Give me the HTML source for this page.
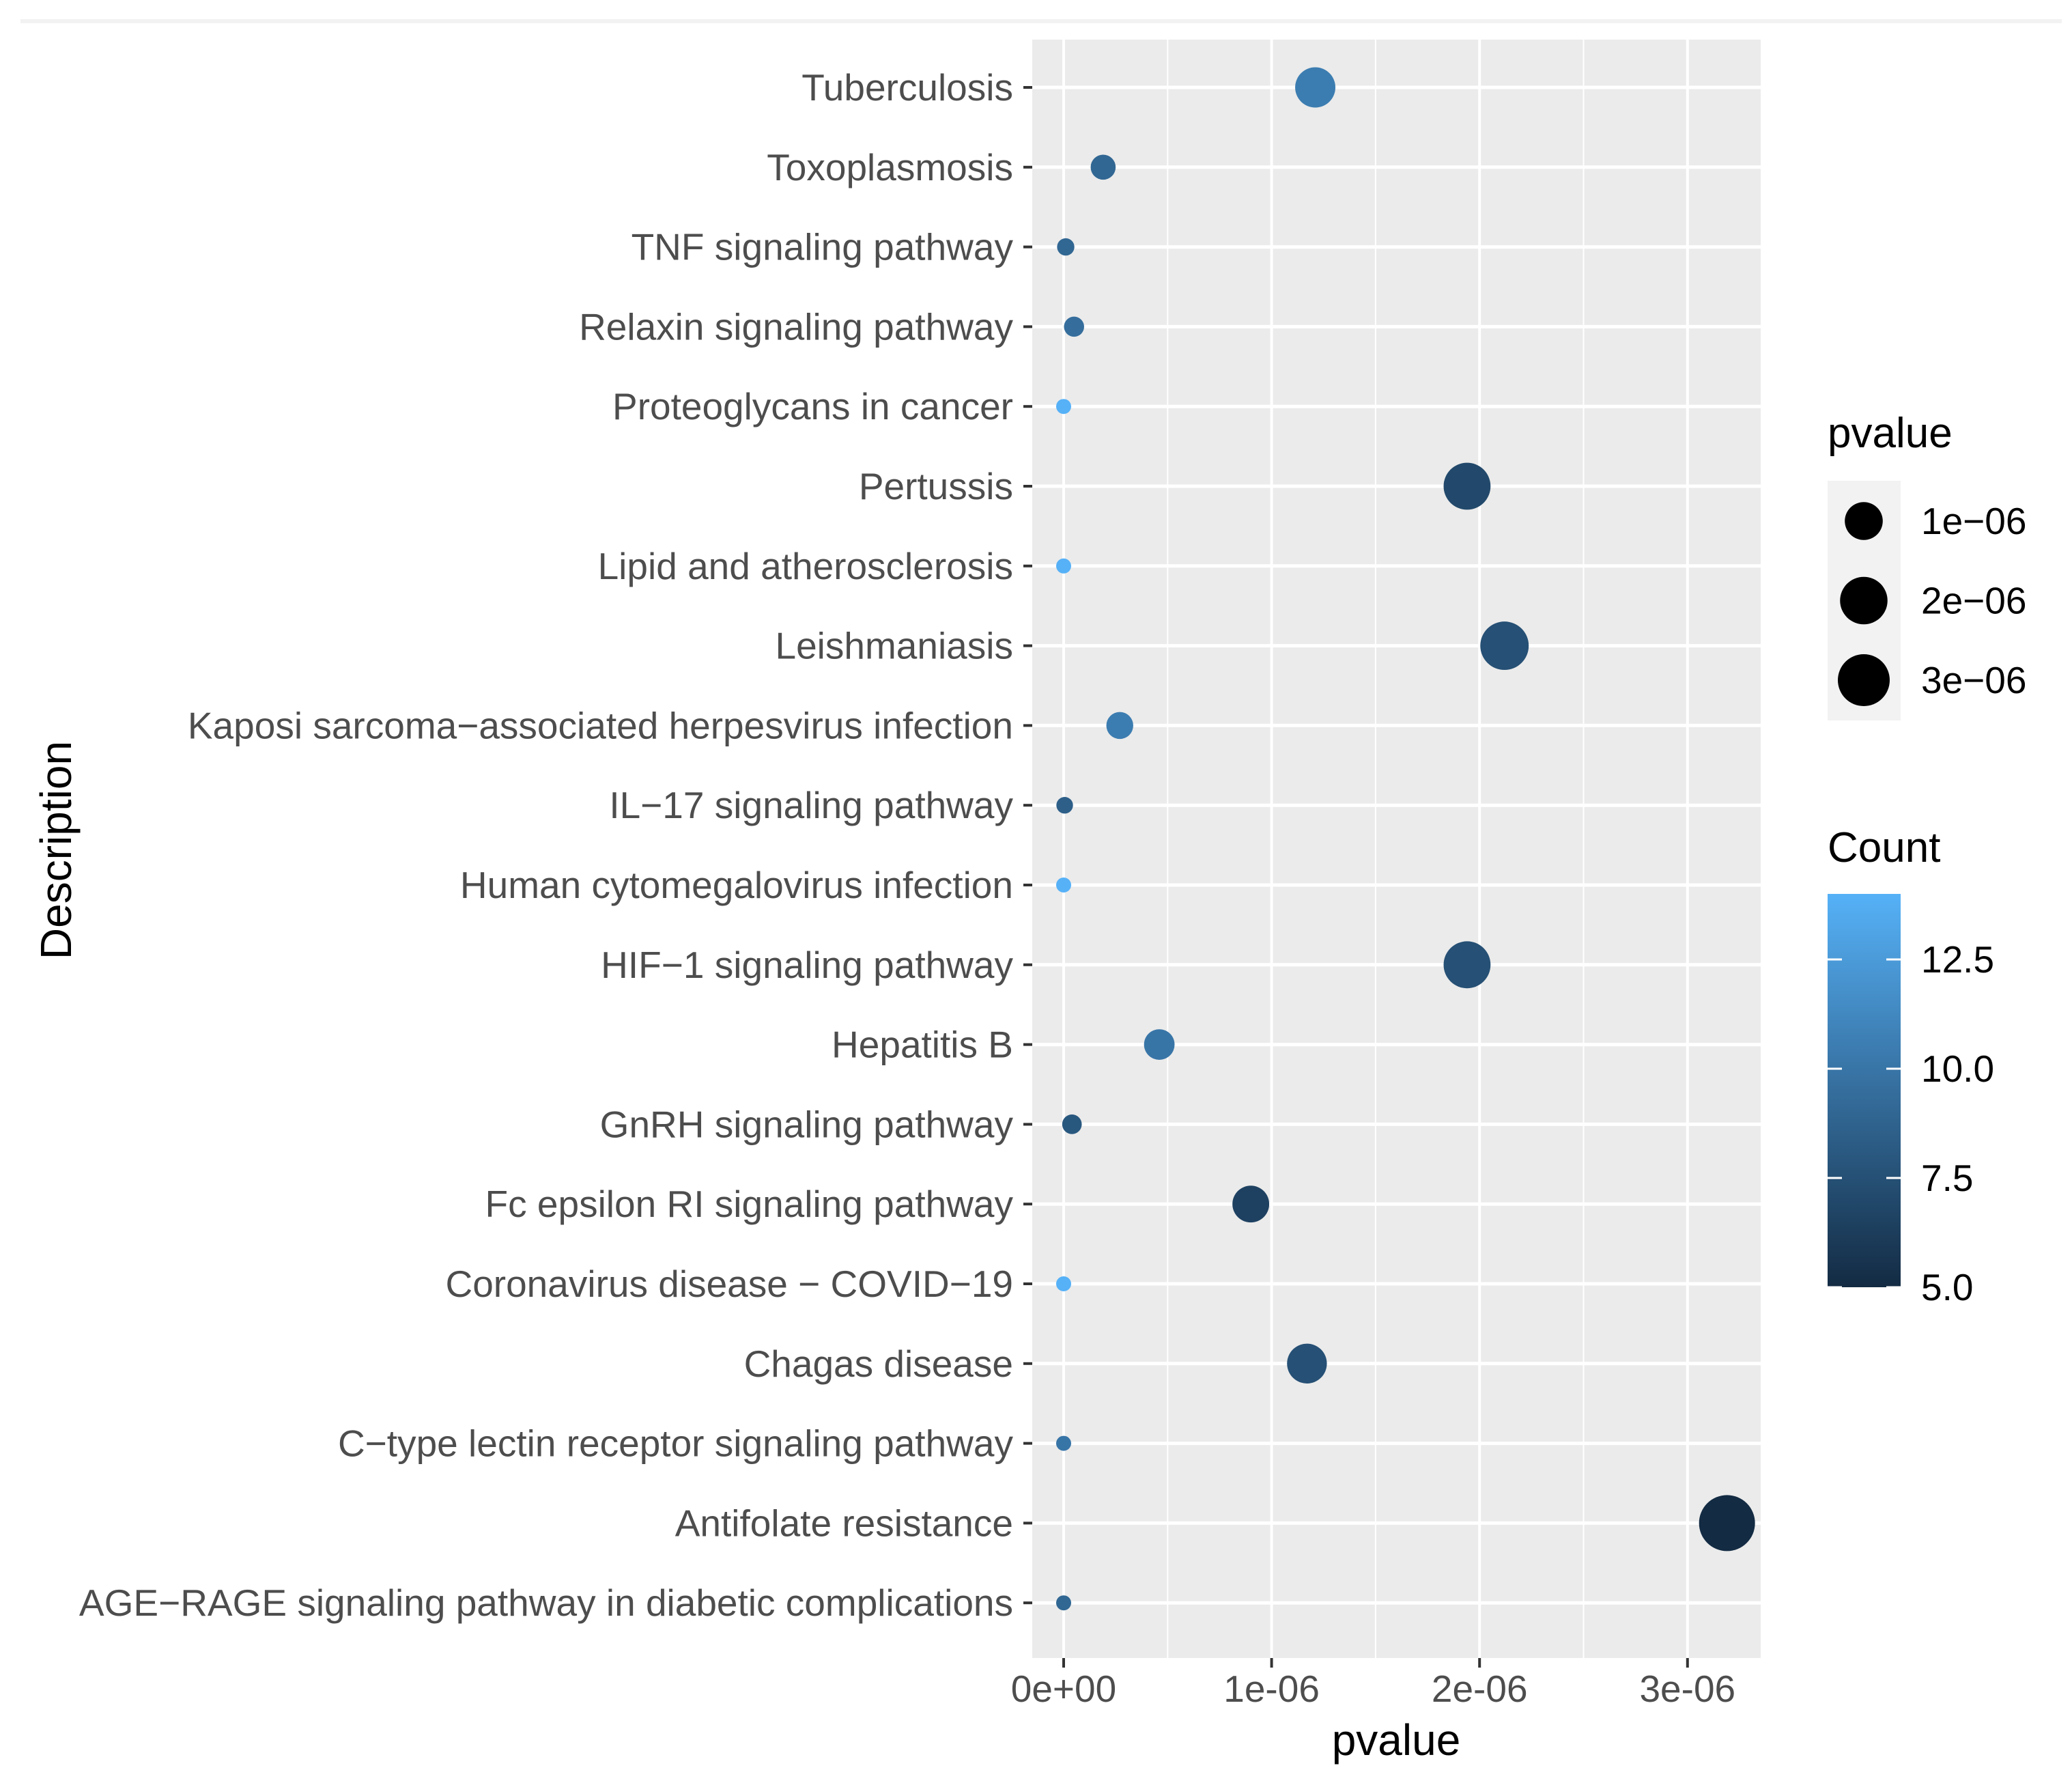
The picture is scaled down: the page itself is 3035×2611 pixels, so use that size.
<!DOCTYPE html>
<html><head><meta charset="utf-8"><style>
html,body{margin:0;padding:0;background:#fff;}
svg{display:block;font-family:"Liberation Sans",Arial,sans-serif;}
</style></head><body>
<svg id="chart" width="3035" height="2611" viewBox="0 0 3035 2611">
<rect x="30" y="28" width="2990" height="6" fill="#f2f2f2"/>
<rect x="1512" y="58" width="1067" height="2370" fill="#EBEBEB"/>
<g id="grid"></g><g id="points"></g><g id="yaxis"></g><g id="xaxis"></g><g id="legend"></g>
<text x="82" y="1245" transform="rotate(-90 82 1245)" text-anchor="middle" dominant-baseline="central" font-size="64" fill="#000">Description</text>
<text x="2045" y="2570" text-anchor="middle" font-size="64" fill="#000">pvalue</text>
</svg>
<script>
const categories=["Tuberculosis","Toxoplasmosis","TNF signaling pathway","Relaxin signaling pathway","Proteoglycans in cancer","Pertussis","Lipid and atherosclerosis","Leishmaniasis","Kaposi sarcoma\u2212associated herpesvirus infection","IL\u221217 signaling pathway","Human cytomegalovirus infection","HIF\u22121 signaling pathway","Hepatitis B","GnRH signaling pathway","Fc epsilon RI signaling pathway","Coronavirus disease \u2212 COVID\u221219","Chagas disease","C\u2212type lectin receptor signaling pathway","Antifolate resistance","AGE\u2212RAGE signaling pathway in diabetic complications"];
const pvalues=[1.21e-6,0.19e-6,0.01e-6,0.05e-6,0.0,1.94e-6,0.0,2.12e-6,0.27e-6,0.005e-6,0.0,1.94e-6,0.46e-6,0.04e-6,0.90e-6,0.0,1.17e-6,0.0,3.19e-6,0.0];
const counts=[10.5,9,9,9.5,14,7,14,7.5,10.5,8.5,14,7.5,10,8,6.5,14,7.5,10,5,9];
const xTicks=[0,1e-6,2e-6,3e-6];
const xTickLabels=["0e+00","1e-06","2e-06","3e-06"];
const xMinor=[0.5e-6,1.5e-6,2.5e-6];
const sizeBreaks=[1e-6,2e-6,3e-6];
const sizeLabels=["1e\u221206","2e\u221206","3e\u221206"];
const colorBreaks=[5,7.5,10,12.5];
const colorLabels=["5.0","7.5","10.0","12.5"];

const NS="http://www.w3.org/2000/svg";
function mk(tag,attrs,parent,text){const e=document.createElementNS(NS,tag);for(const k in attrs)e.setAttribute(k,attrs[k]);if(text!==undefined)e.textContent=text;parent.appendChild(e);return e;}
const X=p=>1558+p*304.6e6;
const Y=i=>128+i*116.8;
const pMin=Math.min(...pvalues),pMax=Math.max(...pvalues);
const R=p=>11+30*Math.sqrt(Math.max(0,(p-pMin)/(pMax-pMin)));
const cMin=5,cMax=14;
const lo=[19,43,67],hi=[86,177,247];
function C(c){const t=Math.max(0,Math.min(1,(c-cMin)/(cMax-cMin)));const v=lo.map((a,k)=>Math.round(a+(hi[k]-a)*t));return `rgb(${v.join(',')})`;}

const grid=document.getElementById('grid');
xMinor.forEach(v=>{const l=mk('line',{x1:X(v),x2:X(v),y1:58,y2:2428,stroke:'#fff','stroke-width':2},grid);

});
xTicks.forEach(v=>{const l=mk('line',{x1:X(v),x2:X(v),y1:58,y2:2428,stroke:'#fff','stroke-width':4},grid);

});
categories.forEach((c,i)=>{const l=mk('line',{x1:1512,x2:2579,y1:Y(i),y2:Y(i),stroke:'#fff','stroke-width':5},grid);

});

const ya=document.getElementById('yaxis');
categories.forEach((c,i)=>{
const tk=mk('line',{x1:1499,x2:1512,y1:Y(i),y2:Y(i),stroke:'#333','stroke-width':4},ya);


const t=mk('text',{x:1484,y:Y(i),'text-anchor':'end','dominant-baseline':'central','font-size':55,fill:'#4d4d4d'},ya,c);

});

const xa=document.getElementById('xaxis');
xTicks.forEach((v,i)=>{
const tk=mk('line',{x1:X(v),x2:X(v),y1:2428,y2:2442,stroke:'#333','stroke-width':4},xa);


const t=mk('text',{x:X(v),y:2492,'text-anchor':'middle','font-size':55,fill:'#4d4d4d'},xa,xTickLabels[i]);

});

const pts=document.getElementById('points');
categories.forEach((c,i)=>{
const d=mk('circle',{cx:X(pvalues[i]),cy:Y(i),r:R(pvalues[i]),fill:C(counts[i])},pts);

});

const lg=document.getElementById('legend');
const LX=2677;
const t1=mk('text',{x:LX,y:655,'font-size':62,fill:'#000'},lg,'pvalue');


const kb=mk('rect',{x:LX,y:704,width:107,height:351,fill:'#f2f2f2'},lg);


sizeBreaks.forEach((v,i)=>{const y=763+i*116.5;
const c=mk('circle',{cx:LX+53,cy:y,r:Math.min(R(v),38),fill:'#000'},lg);


const t=mk('text',{x:LX+137,y:y,'dominant-baseline':'central','font-size':55,fill:'#000'},lg,sizeLabels[i]);

});

const t2=mk('text',{x:LX,y:1262,'font-size':62,fill:'#000'},lg,'Count');


const defs=mk('defs',{},lg);
const gr=mk('linearGradient',{id:'cg',x1:0,y1:1,x2:0,y2:0},defs);
for(let k=0;k<=10;k++){mk('stop',{offset:k/10,'stop-color':C(cMin+(cMax-cMin)*k/10)},gr);}
const CY=c=>1885-(c-5)/2.5*160;
const bar=mk('rect',{x:LX,y:CY(cMax),width:107,height:CY(cMin)-CY(cMax),fill:'url(#cg)'},lg);


colorBreaks.forEach((v,i)=>{const y=CY(v);
mk('line',{x1:LX,x2:LX+21,y1:y,y2:y,stroke:'#fff','stroke-width':3},lg);
mk('line',{x1:LX+86,x2:LX+107,y1:y,y2:y,stroke:'#fff','stroke-width':3},lg);
const t=mk('text',{x:LX+137,y:y,'dominant-baseline':'central','font-size':55,fill:'#000'},lg,colorLabels[i]);

});
</script>
</body></html>
